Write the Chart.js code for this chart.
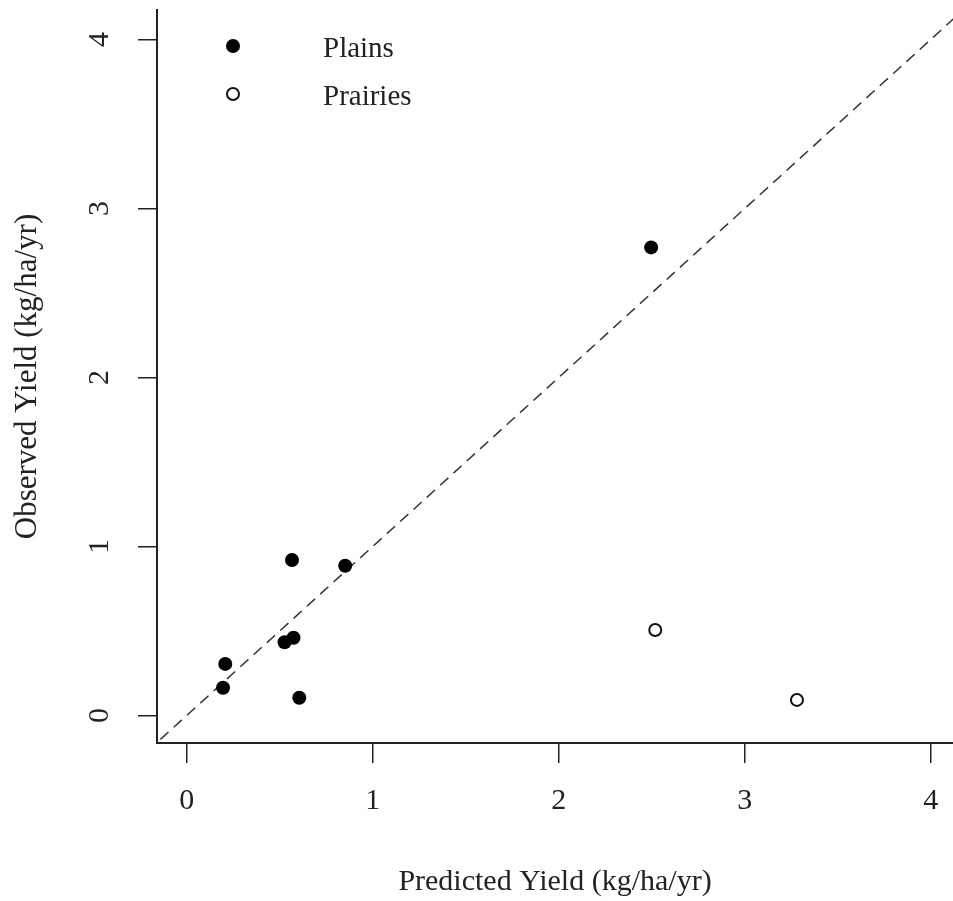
<!DOCTYPE html>
<html>
<head>
<meta charset="utf-8">
<script src="https://cdn.jsdelivr.net/npm/chart.js@4.4.1/dist/chart.umd.min.js"></script>
<style>
  html, body { margin: 0; padding: 0; background: #fff; }
  #wrap { width: 953px; height: 901px; }
</style>
</head>
<body>
<div id="wrap"><canvas id="yieldChart"></canvas></div>
<script>
// Values (kg/ha/yr)
const plainsPredicted = [0.566, 0.852, 0.526, 0.574, 0.207, 0.195, 0.605, 2.497];
const plainsObserved = [0.92, 0.886, 0.433, 0.46, 0.305, 0.164, 0.105, 2.77];
const prairiesPredicted = [2.519, 3.281];
const prairiesObserved = [0.506, 0.092];
const oneToOne = [-0.5, 4.5]; // 1:1 reference line ends
const xTickValues = [0, 1, 2, 3, 4];
const yTickValues = [0, 1, 2, 3, 4];

const serif = "'Liberation Serif', 'Times New Roman', serif";
const ink = "#222";

function toPoints(xs, ys) {
  return xs.map((x, i) => ({ x: x, y: ys[i] }));
}

// no extra room for edge labels, the axes run to the plot edges
function noEdgePadding(scale) {
  scale.paddingTop = 0;
  scale.paddingBottom = 0;
  scale.paddingLeft = 0;
  scale.paddingRight = 0;
}

// Legend drawn inside the plot, R style
const insetLegend = {
  id: "insetLegend",
  afterDraw(chart) {
    const { ctx, chartArea } = chart;
    const items = chart.data.datasets.filter((d) => d.inLegend);
    ctx.save();
    items.forEach((ds, i) => {
      const x = chartArea.left + 76;
      const y = chartArea.top + 36 + i * 48;
      ctx.beginPath();
      ctx.arc(x, y, ds.pointRadius, 0, Math.PI * 2);
      ctx.fillStyle = ds.backgroundColor;
      ctx.fill();
      if (ds.borderWidth > 0) {
        ctx.lineWidth = ds.borderWidth;
        ctx.strokeStyle = ds.borderColor;
        ctx.stroke();
      }
      ctx.font = "29px " + serif;
      ctx.fillStyle = ink;
      ctx.textBaseline = "middle";
      ctx.textAlign = "left";
      ctx.fillText(ds.label, chartArea.left + 166, y + 3);
    });
    ctx.restore();
  },
};

const ctx = document.getElementById("yieldChart").getContext("2d");

const yieldChart = new Chart(ctx, {
  type: "scatter",
  data: {
    datasets: [
      {
        label: "Plains",
        data: toPoints(plainsPredicted, plainsObserved),
        backgroundColor: "#000",
        borderColor: "#000",
        borderWidth: 0,
        pointRadius: 7,
        inLegend: true,
      },
      {
        label: "Prairies",
        data: toPoints(prairiesPredicted, prairiesObserved),
        backgroundColor: "#fff",
        borderColor: "#111",
        borderWidth: 2,
        pointRadius: 6,
        inLegend: true,
      },
      {
        label: "1:1",
        type: "line",
        data: toPoints(oneToOne, oneToOne),
        borderColor: "#333",
        borderWidth: 1.5,
        borderDash: [11, 7],
        pointRadius: 0,
        fill: false,
      },
    ],
  },
  options: {
    responsive: true,
    maintainAspectRatio: false,
    animation: false,
    events: [],
    layout: { autoPadding: false, padding: { top: 10, right: 0, bottom: 0, left: 0 } },
    plugins: {
      legend: { display: false },
      tooltip: { enabled: false },
    },
    scales: {
      x: {
        type: "linear",
        min: -0.16,
        max: 4.12,
        afterBuildTicks: (scale) => {
          scale.ticks = xTickValues.map((v) => ({ value: v }));
        },
        afterFit: (scale) => {
          scale.height = 158;
          noEdgePadding(scale);
        },
        ticks: {
          color: ink,
          padding: 20,
          font: { family: serif, size: 30 },
        },
        grid: {
          drawOnChartArea: false,
          drawTicks: true,
          tickLength: 20,
          color: ink,
          lineWidth: 1.5,
        },
        border: { display: true, color: ink, width: 2 },
        title: {
          display: true,
          text: "Predicted Yield (kg/ha/yr)",
          color: ink,
          font: { family: serif, size: 30, lineHeight: 1 },
          padding: { top: 0, bottom: 4 },
        },
      },
      y: {
        type: "linear",
        min: -0.163,
        max: 4.175,
        afterBuildTicks: (scale) => {
          scale.ticks = yTickValues.map((v) => ({ value: v }));
        },
        afterFit: (scale) => {
          scale.width = 157;
          noEdgePadding(scale);
        },
        ticks: {
          color: ink,
          padding: 30,
          minRotation: 90,
          maxRotation: 90,
          crossAlign: "center",
          font: { family: serif, size: 30 },
        },
        grid: {
          drawOnChartArea: false,
          drawTicks: true,
          tickLength: 19,
          color: ink,
          lineWidth: 1.5,
        },
        border: { display: true, color: ink, width: 2 },
        title: {
          display: true,
          text: "Observed Yield (kg/ha/yr)",
          color: ink,
          font: { family: serif, size: 31, lineHeight: 1 },
          padding: { top: 12, bottom: 0 },
        },
      },
    },
  },
  plugins: [insetLegend],
});
</script>
</body>
</html>
